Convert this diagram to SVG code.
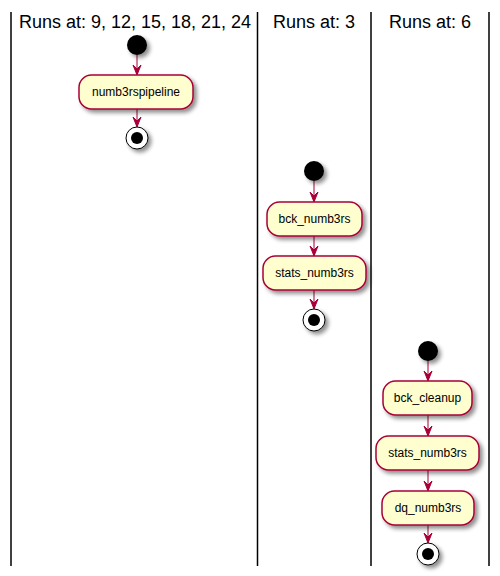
<svg xmlns="http://www.w3.org/2000/svg" width="500" height="576" viewBox="0 0 500 576">
<style>
.lane{stroke:#000;stroke-width:1.5;fill:none}
.title{font-family:"Liberation Sans",Arial,sans-serif;font-size:18px;fill:#000;text-anchor:middle}
.box{fill:#FEFECE;stroke:#A80036;stroke-width:1.5;filter:url(#sh)}
.lbl{font-family:"Liberation Sans",Arial,sans-serif;font-size:12px;fill:#000;text-anchor:middle}
.start{fill:#000;filter:url(#sh)}
.endo{fill:#fff;stroke:#000;stroke-width:1;filter:url(#sh)}
.endi{fill:#000}
.edge{stroke:#A80036;stroke-width:1;fill:none}
.head{fill:#A80036;stroke:#A80036;stroke-width:1}
</style>
<defs>
<filter id="sh" x="-30%" y="-30%" width="170%" height="170%">
<feGaussianBlur in="SourceAlpha" stdDeviation="2" result="b"/>
<feOffset in="b" dx="3" dy="3" result="o"/>
<feComponentTransfer in="o" result="c"><feFuncA type="linear" slope="0.45"/></feComponentTransfer>
<feMerge><feMergeNode in="c"/><feMergeNode in="SourceGraphic"/></feMerge>
</filter>
</defs>
<g id="lanes">
<line class="lane" x1="11" y1="12" x2="11" y2="566"/>
<line class="lane" x1="257.5" y1="12" x2="257.5" y2="566"/>
<line class="lane" x1="371" y1="12" x2="371" y2="566"/>
<line class="lane" x1="489" y1="12" x2="489" y2="566"/>
<text class="title" x="135" y="28">Runs at: 9, 12, 15, 18, 21, 24</text>
<text class="title" x="314" y="28">Runs at: 3</text>
<text class="title" x="430" y="28">Runs at: 6</text>
</g>
<g id="connectors">
<line class="edge" x1="137" y1="55" x2="137" y2="74"/>
<polygon class="head" points="133,65 137,75 141,65 137,69"/>
<line class="edge" x1="137" y1="109" x2="137" y2="126"/>
<polygon class="head" points="133,117 137,127 141,117 137,121"/>

<line class="edge" x1="314" y1="181" x2="314" y2="201"/>
<polygon class="head" points="310,192 314,202 318,192 314,196"/>
<line class="edge" x1="314" y1="236" x2="314" y2="255"/>
<polygon class="head" points="310,246 314,256 318,246 314,250"/>
<line class="edge" x1="314" y1="290" x2="314" y2="308"/>
<polygon class="head" points="310,299 314,309 318,299 314,303"/>

<line class="edge" x1="428" y1="361" x2="428" y2="380"/>
<polygon class="head" points="424,371 428,381 432,371 428,375"/>
<line class="edge" x1="428" y1="415" x2="428" y2="435"/>
<polygon class="head" points="424,426 428,436 432,426 428,430"/>
<line class="edge" x1="428" y1="470" x2="428" y2="490"/>
<polygon class="head" points="424,481 428,491 432,481 428,485"/>
<line class="edge" x1="428" y1="525" x2="428" y2="542"/>
<polygon class="head" points="424,533 428,543 432,533 428,537"/>
</g>
<g id="start1"><circle class="start" cx="137" cy="45" r="10"/></g>
<g id="numb3rspipeline"><rect class="box" x="79" y="75" width="114" height="34" rx="12.5"/><text class="lbl" x="136" y="96">numb3rspipeline</text></g>
<g id="end1"><circle class="endo" cx="137" cy="138" r="11"/><circle class="endi" cx="137" cy="138" r="6"/></g>

<g id="start2"><circle class="start" cx="314" cy="171" r="10"/></g>
<g id="bck_numb3rs"><rect class="box" x="267" y="202" width="95" height="34" rx="12.5"/><text class="lbl" x="314.5" y="223">bck_numb3rs</text></g>
<g id="stats_numb3rs_2"><rect class="box" x="263" y="256" width="103" height="34" rx="12.5"/><text class="lbl" x="314.5" y="277">stats_numb3rs</text></g>
<g id="end2"><circle class="endo" cx="314" cy="320" r="11"/><circle class="endi" cx="314" cy="320" r="6"/></g>

<g id="start3"><circle class="start" cx="428" cy="351" r="10"/></g>
<g id="bck_cleanup"><rect class="box" x="383" y="381" width="89" height="34" rx="12.5"/><text class="lbl" x="427.5" y="402">bck_cleanup</text></g>
<g id="stats_numb3rs_3"><rect class="box" x="376" y="436" width="103" height="34" rx="12.5"/><text class="lbl" x="427.5" y="457">stats_numb3rs</text></g>
<g id="dq_numb3rs"><rect class="box" x="382" y="491" width="92" height="34" rx="12.5"/><text class="lbl" x="428" y="512">dq_numb3rs</text></g>
<g id="end3"><circle class="endo" cx="428" cy="554" r="11"/><circle class="endi" cx="428" cy="554" r="6"/></g>
</svg>
